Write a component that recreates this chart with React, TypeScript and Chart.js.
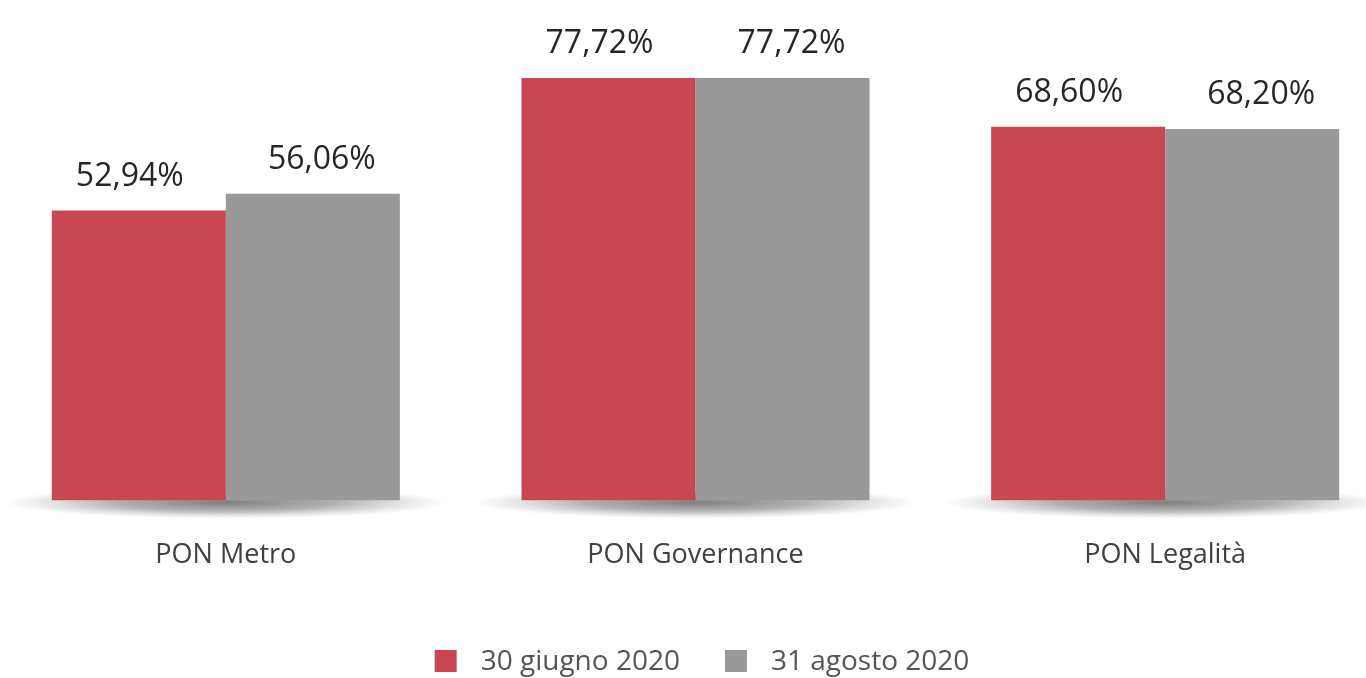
import React, { useEffect, useRef } from "react";
import { Chart, registerables } from "chart.js";

Chart.register(...registerables);

const categories = ["PON Metro", "PON Governance", "PON Legalità"];
const seriesLabels = ["30 giugno 2020", "31 agosto 2020"];
const june2020 = [52.94, 77.72, 68.6];
const august2020 = [56.06, 77.72, 68.2];
const seriesColors = ["#C94753", "#999999"];

const Y_MIN = -1.3;
const Y_MAX = 92.3;

const fmt = (v: number) => v.toFixed(2).replace(".", ",") + "%";

const shadowPlugin = {
  id: "groupShadow",
  beforeDatasetsDraw(chart: any) {
    const { ctx, chartArea, scales } = chart;
    const xs = scales.x;
    const half = xs.getPixelForValue(1) - xs.getPixelForValue(0);
    const rx = half * 0.47;
    const ry = 16;
    categories.forEach((_, i) => {
      const cx = xs.getPixelForValue(i);
      const cy = chartArea.bottom + 2;
      ctx.save();
      ctx.translate(cx, cy);
      ctx.scale(1, ry / rx);
      const g = ctx.createRadialGradient(0, 0, 0, 0, 0, rx);
      g.addColorStop(0, "rgba(0,0,0,0.5)");
      g.addColorStop(0.5, "rgba(0,0,0,0.3)");
      g.addColorStop(0.8, "rgba(0,0,0,0.1)");
      g.addColorStop(1, "rgba(0,0,0,0)");
      ctx.fillStyle = g;
      ctx.beginPath();
      ctx.arc(0, 0, rx, 0, Math.PI * 2);
      ctx.fill();
      ctx.restore();
    });
  },
};

const valueLabelPlugin = {
  id: "valueLabels",
  afterDatasetsDraw(chart: any) {
    const { ctx } = chart;
    ctx.save();
    ctx.font = "32px 'Open Sans'";
    ctx.fillStyle = "#262626";
    ctx.textAlign = "center";
    ctx.textBaseline = "alphabetic";
    chart.data.datasets.forEach((ds: any, di: number) => {
      const meta = chart.getDatasetMeta(di);
      const shift = di === 0 ? -9 : 9;
      meta.data.forEach((bar: any, i: number) => {
        ctx.fillText(fmt(ds.data[i]), bar.x + shift, bar.y - 25);
      });
    });
    ctx.restore();
  },
};

const legendPlugin = {
  id: "customLegend",
  afterDraw(chart: any) {
    const { ctx } = chart;
    ctx.save();
    ctx.font = "28px 'Open Sans'";
    const box = 22;
    const gap = 24;
    const itemGap = 45;
    const widths = chart.data.datasets.map((ds: any) => ctx.measureText(ds.label).width);
    const total =
      widths.reduce((a: number, w: number) => a + box + gap + w, 0) + itemGap * (widths.length - 1);
    let x = chart.width / 2 + 6.5 - total / 2;
    const top = 650;
    chart.data.datasets.forEach((ds: any, i: number) => {
      ctx.fillStyle = ds.backgroundColor;
      ctx.fillRect(x, top, box, box);
      ctx.fillStyle = "#555555";
      ctx.textAlign = "left";
      ctx.textBaseline = "alphabetic";
      ctx.fillText(ds.label, x + box + gap, top + 20);
      x += box + gap + widths[i] + itemGap;
    });
    ctx.restore();
  },
};

export default function App() {
  const ref = useRef<HTMLCanvasElement | null>(null);
  useEffect(() => {
    if (!ref.current) return;
    const chart = new Chart(ref.current, {
      type: "bar",
      data: {
        labels: categories,
        datasets: [
          {
            label: seriesLabels[0],
            data: june2020,
            backgroundColor: seriesColors[0],
            base: Y_MIN,
            categoryPercentage: 0.741,
            barPercentage: 1,
          } as any,
          {
            label: seriesLabels[1],
            data: august2020,
            backgroundColor: seriesColors[1],
            base: Y_MIN,
            categoryPercentage: 0.741,
            barPercentage: 1,
          } as any,
        ],
      },
      options: {
        animation: false,
        responsive: false,
        layout: { padding: { top: 0, bottom: 67, left: 0, right: 0 } },
        plugins: {
          legend: { display: false },
          tooltip: { enabled: false },
        },
        scales: {
          x: {
            grid: { display: false, drawTicks: false },
            border: { display: false },
            ticks: {
              padding: 39,
              color: "#404040",
              font: { family: "'Open Sans'", size: 27 },
            },
          },
          y: {
            display: false,
            min: Y_MIN,
            max: Y_MAX,
          },
        },
      },
      plugins: [shadowPlugin, valueLabelPlugin, legendPlugin],
    });
    return () => chart.destroy();
  }, []);

  return (
    <div
      style={{
        position: "fixed",
        left: 0,
        top: 0,
        width: 1366,
        height: 678,
        overflow: "hidden",
        background: "#fff",
      }}
    >
      <div style={{ position: "absolute", left: -9, top: 0, width: 1409, height: 678 }}>
        <canvas ref={ref} width={1409} height={678} style={{ width: 1409, height: 678 }} />
      </div>
    </div>
  );
}
